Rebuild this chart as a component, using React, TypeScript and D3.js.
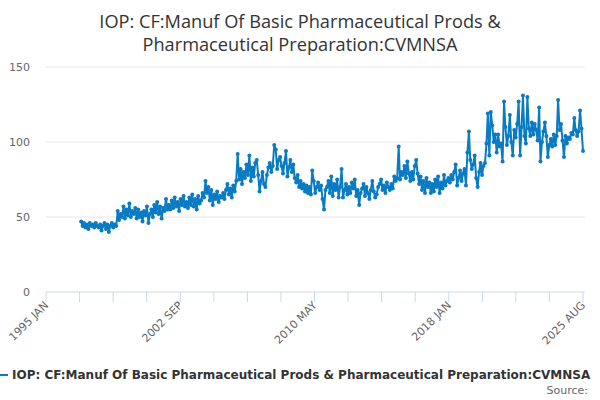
import { useMemo } from 'react';
import * as d3 from 'd3';

// monthly values, Jan 1997 .. Aug 2025
const y1997 = [47, 44, 46, 43, 45, 42, 46, 44, 45, 43, 46, 44];
const y1998 = [43, 45, 41, 44, 46, 42, 45, 40, 44, 46, 43, 45];
const y1999 = [44, 54, 48, 52, 50, 57, 49, 55, 51, 59, 50, 54];
const y2000 = [52, 56, 49, 55, 50, 53, 47, 54, 51, 57, 46, 52];
const y2001 = [55, 50, 58, 53, 60, 52, 57, 49, 56, 54, 62, 55];
const y2002 = [58, 55, 61, 56, 63, 57, 60, 54, 62, 58, 64, 57];
const y2003 = [60, 56, 63, 58, 65, 57, 62, 55, 64, 59, 61, 66];
const y2004 = [63, 74, 66, 70, 61, 68, 58, 65, 62, 67, 60, 64];
const y2005 = [63, 66, 62, 68, 72, 65, 69, 63, 71, 67, 74, 92];
const y2006 = [75, 82, 72, 80, 76, 85, 78, 91, 74, 83, 77, 86];
const y2007 = [88, 78, 67, 74, 80, 72, 70, 78, 83, 86, 80, 84];
const y2008 = [98, 95, 82, 88, 90, 84, 79, 86, 94, 77, 83, 88];
const y2009 = [80, 85, 76, 73, 78, 70, 74, 69, 72, 67, 71, 66];
const y2010 = [70, 65, 81, 74, 66, 70, 73, 68, 71, 62, 55, 68];
const y2011 = [70, 74, 66, 77, 64, 72, 68, 75, 63, 70, 82, 63];
const y2012 = [68, 72, 65, 70, 66, 73, 69, 75, 64, 68, 58, 66];
const y2013 = [69, 72, 64, 70, 66, 62, 68, 74, 67, 63, 65, 70];
const y2014 = [72, 75, 68, 71, 66, 73, 70, 68, 72, 69, 77, 74];
const y2015 = [76, 97, 75, 80, 78, 84, 76, 87, 79, 74, 80, 75];
const y2016 = [84, 88, 79, 72, 77, 68, 74, 66, 76, 70, 73, 66];
const y2017 = [72, 67, 75, 70, 77, 66, 73, 69, 78, 71, 74, 76];
const y2018 = [73, 78, 75, 80, 85, 71, 76, 81, 74, 79, 82, 71];
const y2019 = [93, 107, 88, 82, 85, 91, 76, 70, 80, 86, 78, 84];
const y2020 = [86, 99, 119, 91, 120, 111, 100, 105, 93, 105, 97, 99];
const y2021 = [87, 127, 110, 98, 104, 118, 100, 91, 108, 103, 112, 127];
const y2022 = [91, 110, 131, 104, 99, 130, 109, 104, 113, 105, 112, 108];
const y2023 = [101, 123, 87, 100, 107, 113, 104, 90, 98, 102, 97, 105];
const y2024 = [98, 104, 128, 108, 112, 101, 90, 104, 99, 103, 102, 106];
const y2025 = [105, 116, 108, 104, 107, 121, 109, 94];

const yearly = [y1997, y1998, y1999, y2000, y2001, y2002, y2003, y2004, y2005, y2006,
  y2007, y2008, y2009, y2010, y2011, y2012, y2013, y2014, y2015, y2016, y2017,
  y2018, y2019, y2020, y2021, y2022, y2023, y2024, y2025];
const firstYear = 1997;

const yTicks = [0, 50, 100, 150];
const xTickLabels = ['1995 JAN', '2002 SEP', '2010 MAY', '2018 JAN', '2025 AUG'];

const seriesName = 'IOP: CF:Manuf Of Basic Pharmaceutical Prods & Pharmaceutical Preparation:CVMNSA';
const titleLines = ['IOP: CF:Manuf Of Basic Pharmaceutical Prods &', 'Pharmaceutical Preparation:CVMNSA'];

const W = 600;
const H = 400;
const margin = { top: 67, right: 17, bottom: 108, left: 46 };
const lineColor = '#0a7bc2';
const font = '"DejaVu Sans", Verdana, sans-serif';

export default function App() {
  const points = useMemo(() => {
    const out: { date: Date; value: number }[] = [];
    yearly.forEach((vals, yi) => {
      vals.forEach((v, m) => out.push({ date: new Date(firstYear + yi, m, 1), value: v }));
    });
    return out;
  }, []);

  const x = d3.scaleTime()
    .domain([new Date(1995, 0, 1), new Date(2025, 7, 1)])
    .range([margin.left, W - margin.right]);
  const y = d3.scaleLinear().domain([0, 150]).range([H - margin.bottom, margin.top]);

  const line = d3.line<{ date: Date; value: number }>()
    .x(d => x(d.date))
    .y(d => y(d.value));

  // 17 evenly spaced ticks, every 4th labelled
  const [d0, d1] = x.domain().map(d => d.getTime());
  const tickDates = d3.range(17).map(i => new Date(d0 + (d1 - d0) * i / 16));
  const baseY = y(0);

  return (
    <svg width={W} height={H} style={{ position: 'absolute', left: 0, top: 0, background: '#fff' }} fontFamily={font}>
      {titleLines.map((t, i) => (
        <text key={t} x={W / 2} y={28 + i * 23} textAnchor="middle" fontSize={18.2} fill="#333"
          fontFamily='"Open Sans", sans-serif'>{t}</text>
      ))}

      {yTicks.filter(t => t > 0).map(t => (
        <line key={t} x1={margin.left} x2={W - margin.right + 2} y1={y(t)} y2={y(t)} stroke="#e6e6e6" />
      ))}
      {yTicks.map(t => (
        <text key={t} x={30} y={y(t) + 4} textAnchor="end" fontSize={11} fill="#666">{t}</text>
      ))}

      <line x1={margin.left} x2={W - margin.right + 2} y1={baseY} y2={baseY} stroke="#ccd6eb" />
      {tickDates.map((d, i) => (
        <line key={i} x1={x(d)} x2={x(d)} y1={baseY} y2={baseY + 10} stroke="#ccd6eb" />
      ))}
      {tickDates.filter((_, i) => i % 4 === 0).map((d, i) => (
        <text key={i} transform={`translate(${x(d) + 3},${baseY + 14}) rotate(-45)`} textAnchor="end"
          fontSize={11} fill="#666">{xTickLabels[i]}</text>
      ))}

      <path d={line(points) || ''} fill="none" stroke={lineColor} strokeWidth={2} strokeLinejoin="round" />
      {points.map((p, i) => (
        <circle key={i} cx={x(p.date)} cy={y(p.value)} r={2} fill={lineColor} />
      ))}

      <line x1={0} x2={8} y1={375} y2={375} stroke={lineColor} strokeWidth={2} />
      <text x={12} y={379} fontSize={12} fontWeight="bold" fill="#333">{seriesName}</text>
      <text x={588} y={394} textAnchor="end" fontSize={11} fill="#666">Source:</text>
    </svg>
  );
}
